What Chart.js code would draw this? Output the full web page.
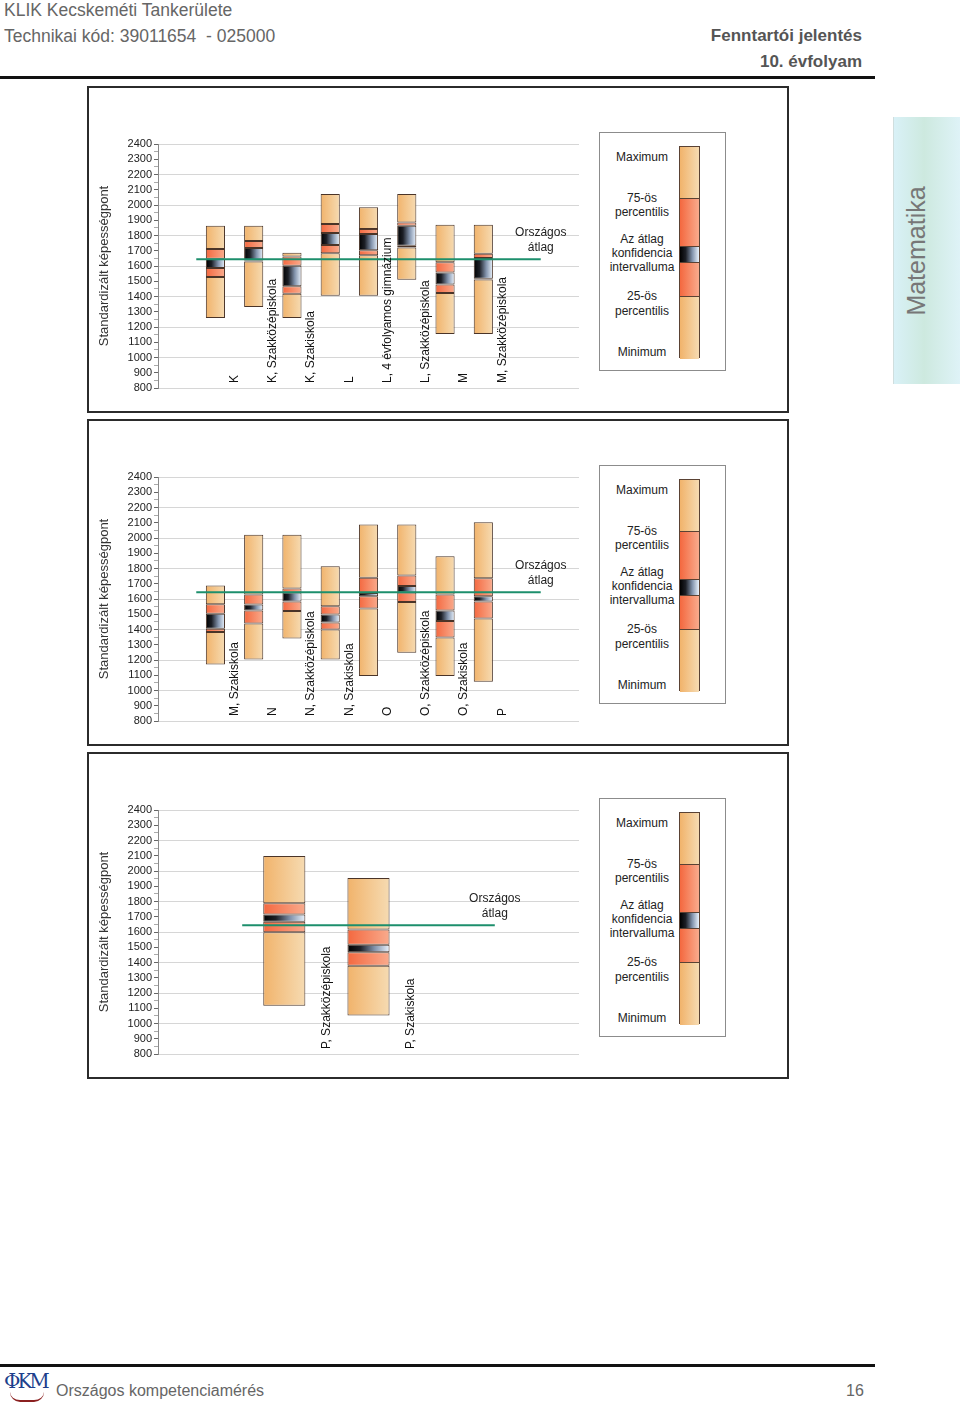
<!DOCTYPE html>
<html>
<head>
<meta charset="utf-8">
<script src="https://cdn.jsdelivr.net/npm/chart.js@4.4.1/dist/chart.umd.min.js"></script>
<style>
  body { margin: 0; width: 960px; height: 1409px; position: relative; background: #fff;
         font-family: "Liberation Sans", Arial, sans-serif; overflow: hidden; }
  .abs { position: absolute; }
  .hdr { color: #666; font-size: 17.5px; line-height: 20px; white-space: nowrap; }
  .hdr.b { font-weight: bold; color: #555; text-align: right; right: 98px; font-size: 17px; }
  .rule { position: absolute; left: 0; width: 875px; height: 3px; background: #111; }
  .panel { position: absolute; left: 87px; width: 698px; height: 323px; border: 2px solid #2b2b2b; }
  canvas { position: absolute; left: 87px; }
  .legend { position: absolute; left: 599px; width: 125px; height: 237px; border: 1px solid #8c8c8c; background: #fff; }
  .legend .txt { position: absolute; left: 0; width: 84px; text-align: center; font-size: 12px; line-height: 14px; color: #222; }
  .legend .bar { position: absolute; left: 79px; top: 13px; width: 21px; height: 212px; border: 1px solid #5a4234; box-sizing: border-box; }
  .seg { position: relative; box-sizing: border-box; border-bottom: 1px solid #5a4234; }
  .seg:last-child { border-bottom: none; }
  .tab { position: absolute; left: 893px; top: 117px; width: 67px; height: 267px;
         background: linear-gradient(90deg, #d9f1f7 0%, #cde9df 45%, #dff3f8 100%); border-left: 1px solid #d0dede; }
  .tab span { position: absolute; left: 22px; top: 50%; transform: translate(-50%, -50%) rotate(-90deg);
              font-size: 25px; color: #777; white-space: nowrap; }
</style>
</head>
<body>
<div class="abs hdr" style="left:4px; top:0px;">KLIK Kecskeméti Tankerülete</div>
<div class="abs hdr" style="left:4px; top:26px;">Technikai kód: 39011654&nbsp; - 025000</div>
<div class="abs hdr b" style="top:26px;">Fenntartói jelentés</div>
<div class="abs hdr b" style="top:52px;">10. évfolyam</div>
<div class="rule" style="top:76px;"></div>

<div class="tab"><span>Matematika</span></div>

<div class="panel" style="top:86px;"></div>
<div class="panel" style="top:419px;"></div>
<div class="panel" style="top:752px;"></div>

<canvas id="c1" width="508" height="327" style="top:86px;"></canvas>
<canvas id="c2" width="508" height="327" style="top:419px;"></canvas>
<canvas id="c3" width="508" height="327" style="top:752px;"></canvas>

<div class="rule" style="top:1364px;"></div>
<div class="abs" style="left:4px; top:1370px; width:46px; height:34px;">
  <div style="font-family:'DejaVu Serif',serif; font-size:20px; color:#1e3f8c; letter-spacing:-3px; line-height:22px;">ΦKM</div>
  <div style="position:absolute; left:6px; top:22px; width:34px; height:8px; border-bottom:2px solid #8b2020; border-radius:0 0 20px 20px;"></div>
</div>
<div class="abs" style="left:56px; top:1382px; font-size:16px; color:#666;">Országos kompetenciamérés</div>
<div class="abs" style="left:846px; top:1382px; font-size:16px; color:#666;">16</div>

<script>
// országos átlag
const AVG = 1645;

// 1. panel
const cats1 = ['K', 'K, Szakközépiskola', 'K, Szakiskola', 'L', 'L, 4 évfolyamos gimnázium', 'L, Szakközépiskola', 'M', 'M, Szakközépiskola'];
const min1  = [1259, 1331, 1259, 1405, 1405, 1510, 1154, 1154];
const p25_1 = [1528, 1630, 1418, 1683, 1670, 1722, 1423, 1512];
const ciLo1 = [1587, 1636, 1467, 1738, 1703, 1733, 1478, 1517];
const ciHi1 = [1648, 1718, 1602, 1816, 1810, 1864, 1558, 1652];
const p75_1 = [1711, 1764, 1663, 1875, 1843, 1886, 1624, 1681];
const max1  = [1864, 1864, 1687, 2072, 1985, 2072, 1871, 1871];

// 2. panel
const cats2 = ['M, Szakiskola', 'N', 'N, Szakközépiskola', 'N, Szakiskola', 'O', 'O, Szakközépiskola', 'O, Szakiskola', 'P'];
const min2  = [1171, 1204, 1341, 1204, 1095, 1247, 1095, 1057];
const p25_2 = [1383, 1440, 1522, 1400, 1538, 1581, 1348, 1472];
const ciLo2 = [1405, 1525, 1584, 1446, 1618, 1642, 1455, 1584];
const ciHi2 = [1503, 1564, 1642, 1498, 1640, 1686, 1525, 1618];
const p75_2 = [1566, 1629, 1669, 1553, 1739, 1754, 1629, 1736];
const max2  = [1688, 2022, 2022, 1815, 2088, 2088, 1880, 2103];

// 3. panel
const cats3 = ['P, Szakközépiskola', 'P, Szakiskola'];
const min3  = [1117, 1053];
const p25_3 = [1598, 1379];
const ciLo3 = [1668, 1467];
const ciHi3 = [1714, 1517];
const p75_3 = [1788, 1617];
const max3  = [2098, 1954];

const FONT = '"Liberation Sans", Arial, sans-serif';
Chart.defaults.font.family = FONT;

const STOPS = {
  orange: [[0, '#f1b36b'], [1, '#f6dbb2']],
  red:    [[0, '#f4683f'], [1, '#f9ab8d']],
  ci:     [[0, '#000000'], [0.3, '#1c1f26'], [0.65, '#8394ad'], [1, '#eaf3fd']]
};

function grad(kind) {
  return ctx => {
    const chart = ctx.chart, x = chart.scales.x;
    if (ctx.type !== 'data' || !chart.chartArea || !x) return STOPS[kind][0][1];
    const w = x.width / x.getLabels().length * 0.5;
    const px = x.getPixelForValue(ctx.dataIndex);
    const g = chart.ctx.createLinearGradient(px - w / 2, 0, px + w / 2, 0);
    STOPS[kind].forEach(([o, c]) => g.addColorStop(o, c));
    return g;
  };
}

// feliratok a rajzterületen belül + "Országos átlag"
const inLabels = {
  id: 'inLabels',
  afterDatasetsDraw(chart, args, opts) {
    const ctx = chart.ctx, x2 = chart.scales.x2, y = chart.scales.y;
    const bottom = chart.chartArea.bottom;
    ctx.save();
    ctx.fillStyle = '#111';
    ctx.font = '12px ' + FONT;
    opts.labels.forEach((t, i) => {
      ctx.save();
      ctx.translate(x2.getPixelForValue(i + 2), bottom - 5);
      ctx.rotate(-Math.PI / 2);
      ctx.textAlign = 'left';
      ctx.textBaseline = 'middle';
      ctx.fillText(t, 0, 0);
      ctx.restore();
    });
    ctx.fillStyle = '#222';
    ctx.textAlign = 'center';
    ctx.textBaseline = 'middle';
    const ax = x2.getPixelForValue(opts.avgAt), ay = y.getPixelForValue(opts.avg);
    ctx.fillText('Országos', ax, ay - 26);
    ctx.fillText('átlag', ax, ay - 11);
    ctx.restore();
  }
};

function makeChart(id, cats, mins, p25, ciLo, ciHi, p75, maxs, slots) {
  const labels = new Array(slots).fill('');
  const put = (lo, hi) => {
    const d = new Array(slots).fill(null);
    cats.forEach((c, i) => { d[i + 1] = [lo[i], hi[i]]; });
    return d;
  };
  const segs = [[mins, p25, 'orange'], [p25, ciLo, 'red'], [ciLo, ciHi, 'ci'], [ciHi, p75, 'red'], [p75, maxs, 'orange']];
  const datasets = segs.map(([lo, hi, kind]) => ({
    type: 'bar',
    data: put(lo, hi),
    backgroundColor: grad(kind),
    borderColor: '#4a3428',
    borderWidth: 1,
    borderSkipped: false,
    grouped: false,
    barPercentage: 0.5,
    categoryPercentage: 1,
    order: 1
  }));
  datasets.push({
    type: 'line',
    xAxisID: 'x2',
    data: [{ x: 1, y: AVG }, { x: slots - 1, y: AVG }],
    borderColor: '#1d8f6c',
    borderWidth: 2,
    pointRadius: 0,
    order: 0
  });

  new Chart(document.getElementById(id), {
    type: 'bar',
    data: { labels, datasets },
    plugins: [inLabels],
    options: {
      responsive: false,
      animation: false,
      layout: { padding: { left: 0, right: 16, top: 58, bottom: 25 } },
      plugins: {
        legend: { display: false },
        tooltip: { enabled: false },
        inLabels: { labels: cats, avg: AVG, avgAt: slots - 1 }
      },
      scales: {
        x: { type: 'category', display: false, offset: true, grid: { display: false } },
        x2: { type: 'linear', min: 0, max: slots, display: false, offset: false, grid: { offset: false } },
        y: {
          min: 800, max: 2400,
          afterFit: s => { s.width = 71; },
          ticks: {
            stepSize: 50, autoSkip: false, padding: 2, color: '#222', font: { size: 11 },
            callback: v => (v % 100 === 0 ? String(v) : '')
          },
          grid: {
            color: c => (c.tick && c.tick.value % 200 === 0 ? '#d6d6d6' : 'rgba(0,0,0,0)'),
            tickColor: c => (c.tick && c.tick.value % 100 === 0 ? '#666' : '#aaa'),
            tickLength: 4
          },
          border: { display: true, color: '#8a8a8a' },
          title: {
            display: true, text: 'Standardizált képességpont', color: '#333',
            font: { size: 13 }, padding: { top: 10, bottom: 0 }
          }
        }
      }
    }
  });
}

makeChart('c1', cats1, min1, p25_1, ciLo1, ciHi1, p75_1, max1, 11);
makeChart('c2', cats2, min2, p25_2, ciLo2, ciHi2, p75_2, max2, 11);
makeChart('c3', cats3, min3, p25_3, ciLo3, ciHi3, p75_3, max3, 5);

// jelmagyarázat (mindhárom panelhez)
const legendRows = [
  ['Maximum', 24], ['75-ös', 65], ['percentilis', 79], ['Az átlag', 106], ['konfidencia', 120],
  ['intervalluma', 134], ['25-ös', 163], ['percentilis', 178], ['Minimum', 219]
];
const legendSegs = [[52, 'orange'], [48, 'red'], [16, 'ci'], [34, 'red'], [62, 'orange']];
const cssGrad = kind => 'linear-gradient(90deg,' + STOPS[kind].map(([o, c]) => c + ' ' + (o * 100) + '%').join(',') + ')';

[86, 419, 752].forEach(top => {
  const box = document.createElement('div');
  box.className = 'legend';
  box.style.top = (top + 46) + 'px';
  legendRows.forEach(([t, y]) => {
    const d = document.createElement('div');
    d.className = 'txt';
    d.style.top = (y - 7) + 'px';
    d.textContent = t;
    box.appendChild(d);
  });
  const bar = document.createElement('div');
  bar.className = 'bar';
  legendSegs.forEach(([h, kind]) => {
    const s = document.createElement('div');
    s.className = 'seg';
    s.style.height = h + 'px';
    s.style.background = cssGrad(kind);
    bar.appendChild(s);
  });
  box.appendChild(bar);
  document.body.appendChild(box);
});
</script>
</body>
</html>
